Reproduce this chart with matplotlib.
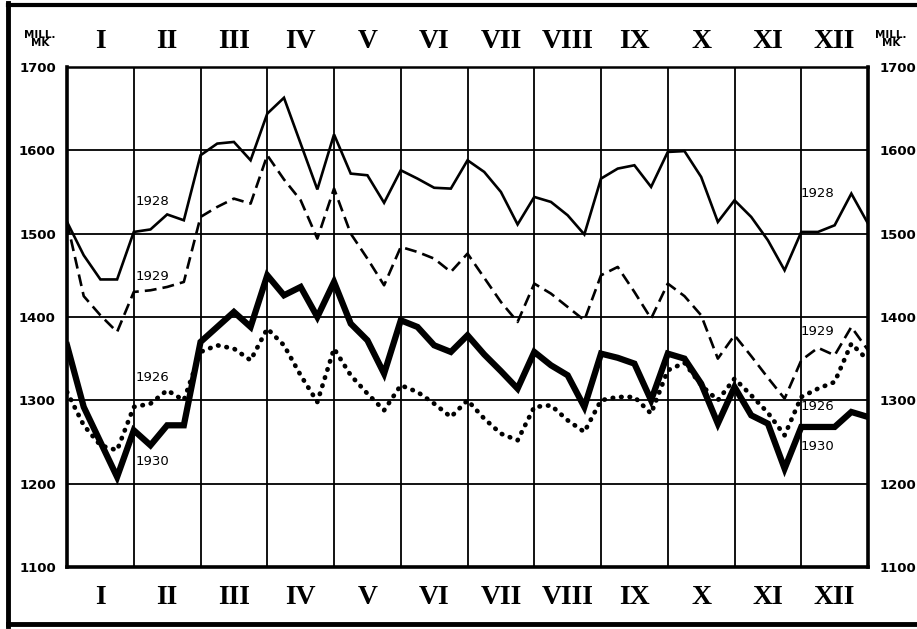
import matplotlib
matplotlib.use('Agg')
import matplotlib.pyplot as plt
from matplotlib.lines import Line2D
import numpy as np

# weekly values (quarter-month steps), million marks
v1928 = [1514, 1474, 1445, 1445, 1502, 1505, 1523, 1516,
         1594, 1608, 1610, 1588, 1644, 1663, 1608, 1553,
         1619, 1572, 1570, 1537, 1576, 1566, 1555, 1554,
         1588, 1574, 1550, 1511, 1544, 1538, 1522, 1499,
         1566, 1578, 1582, 1556, 1598, 1599, 1568, 1514,
         1540, 1520, 1492, 1456, 1502, 1502, 1510, 1548, 1512]
v1929 = [1514, 1425, 1402, 1382, 1430, 1432, 1436, 1442,
         1520, 1532, 1542, 1536, 1594, 1565, 1540, 1494,
         1554, 1500, 1470, 1438, 1484, 1478, 1470, 1454,
         1476, 1447, 1418, 1394, 1440, 1428, 1412, 1396,
         1450, 1460, 1430, 1398, 1440, 1425, 1402, 1350,
         1378, 1353, 1327, 1302, 1348, 1363, 1354, 1388, 1360]
v1930 = [1366, 1292, 1250, 1208, 1264, 1246, 1270, 1270,
         1370, 1388, 1406, 1388, 1450, 1426, 1436, 1400,
         1442, 1392, 1372, 1332, 1396, 1388, 1366, 1358,
         1378, 1355, 1335, 1314, 1358, 1342, 1330, 1292,
         1356, 1351, 1344, 1300, 1356, 1350, 1320, 1272,
         1316, 1282, 1272, 1218, 1268, 1268, 1268, 1286, 1280]
v1926 = [1310, 1270, 1246, 1240, 1292, 1296, 1312, 1300,
         1358, 1366, 1362, 1348, 1386, 1366, 1330, 1298,
         1362, 1330, 1308, 1288, 1318, 1310, 1296, 1280,
         1300, 1278, 1260, 1252, 1292, 1294, 1276, 1262,
         1300, 1304, 1304, 1284, 1336, 1345, 1318, 1300,
         1326, 1306, 1285, 1258, 1304, 1314, 1322, 1368, 1348]
months = ['I', 'II', 'III', 'IV', 'V', 'VI', 'VII', 'VIII', 'IX', 'X', 'XI', 'XII']
yticks = [1100, 1200, 1300, 1400, 1500, 1600, 1700]

x = np.arange(len(v1928)) / 4

fig = plt.figure(figsize=(9.17, 6.29), dpi=100)
ax = fig.add_axes([0.0731, 0.0986, 0.8735, 0.795])

ax.plot(x, v1928, color='black', lw=1.9, solid_joinstyle='miter')
ax.plot(x, v1929, color='black', lw=1.9, linestyle=(0, (4.5, 2.3)))
ax.plot(x, v1930, color='black', lw=4.5, solid_joinstyle='miter')
ax.plot(x, v1926, color='black', lw=3.4, linestyle=(0, (0.1, 1.7)),
        dash_capstyle='round')

ax.set_xlim(0, 12)
ax.set_ylim(1100, 1700)
ax.set_xticks(range(13))
ax.set_yticks(yticks)
ax.grid(True, color='black', lw=1.3)
ax.tick_params(axis='x', length=0, labelbottom=False)
ax.tick_params(axis='y', length=0, labelright=True, pad=8, labelsize=9.5)
for lbl in ax.get_yticklabels(which='both'):
    lbl.set_fontweight('bold')
for side in ['left', 'right', 'bottom']:
    ax.spines[side].set_linewidth(2.6)
ax.spines['top'].set_linewidth(1.8)

# month numerals above and below the grid
for i, m in enumerate(months):
    for yy in (1.05, -0.062):
        ax.text(i + 0.5, yy, m, transform=ax.get_xaxis_transform(),
                ha='center', va='center', fontsize=20, fontweight='bold',
                family='Liberation Serif')

# unit labels
fig.text(40 / 917, 1 - 39 / 629, 'MILL.\nMK', ha='center', va='center',
         fontsize=7.5, fontweight='bold', linespacing=0.85)
fig.text(891 / 917, 1 - 39 / 629, 'MILL.\nMK', ha='center', va='center',
         fontsize=7.5, fontweight='bold', linespacing=0.85)

# series labels
labels_left = [('1928', 1538), ('1929', 1449), ('1926', 1327), ('1930', 1226)]
labels_right = [('1928', 1548), ('1929', 1382), ('1926', 1293), ('1930', 1245)]
for t, yv in labels_left:
    ax.text(1.03, yv, t, ha='left', va='center', fontsize=9.5)
for t, yv in labels_right:
    ax.text(10.99, yv, t, ha='left', va='center', fontsize=9.5)

# outer frame (right edge cut off)
fig.add_artist(Line2D([8 / 917, 8 / 917], [0.005, 0.995], color='black', lw=3.5,
                      transform=fig.transFigure))
fig.add_artist(Line2D([8 / 917, 1], [1 - 5 / 629, 1 - 5 / 629], color='black',
                      lw=3.0, transform=fig.transFigure))
fig.add_artist(Line2D([8 / 917, 1], [5 / 629, 5 / 629], color='black', lw=3.5,
                      transform=fig.transFigure))

fig.savefig('out.png', dpi=100)
